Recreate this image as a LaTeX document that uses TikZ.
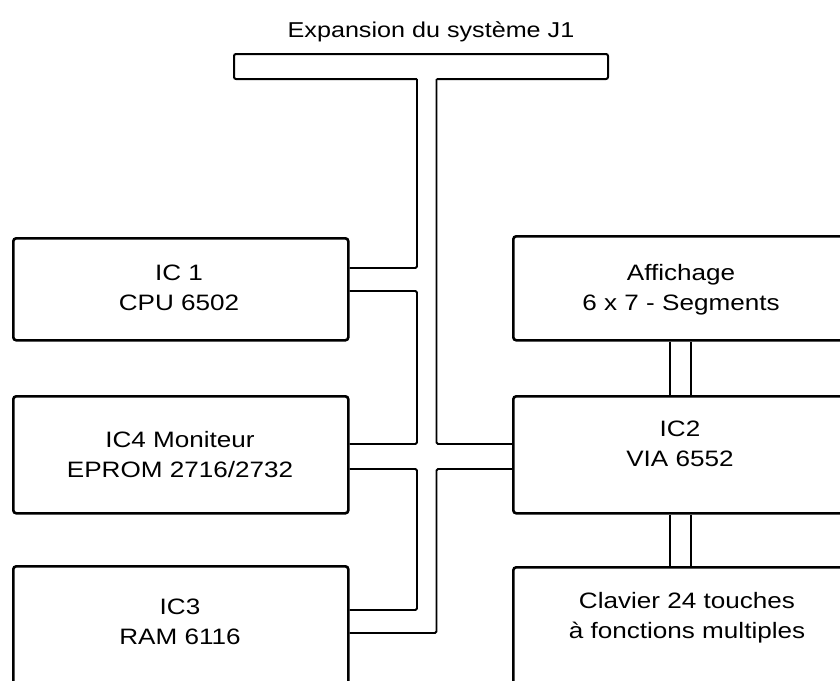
\documentclass[tikz,border=0pt]{standalone}
\usepackage{fontspec}
\setmainfont{Liberation Sans}[FakeStretch=1.17]
\begin{document}
\begin{tikzpicture}[x=1pt,y=-1pt,
  box/.style={draw, line width=2.6pt, rounded corners=3pt, inner sep=0pt, anchor=north west},
  bus/.style={line width=1.8pt, rounded corners=1.5pt},
  boxtext/.style={font=\fontsize{22.3}{30}\selectfont, align=center, inner sep=0pt}]
\useasboundingbox (0,0) rectangle (840,680);
\clip (0,0) rectangle (840,680);

% title and expansion connector bar
\node[font=\fontsize{21.5}{26}\selectfont, anchor=base, inner sep=0pt] (title) at (431,37) {Expansion du système J1};
\coordinate (busL) at (417,79);
\coordinate (busR) at (436.5,79);
\draw[line width=2pt, rounded corners=2pt] (busL) -- (234,79) -- (234,54) -- (608,54) -- (608,79) -- (busR);

% left column
\node[box, minimum width=335pt, minimum height=102pt] (ic1) at (12,237) {};
\node[box, minimum width=335pt, minimum height=117pt] (ic4) at (12,395) {};
\node[box, minimum width=335pt, minimum height=140pt] (ic3) at (12,565) {};
\node[boxtext] (ic1t) at (179,288) {IC 1\\CPU 6502};
\node[boxtext] (ic4t) at (180,455) {IC4 Moniteur\\EPROM 2716/2732};
\node[boxtext] (ic3t) at (180,622) {IC3\\RAM 6116};

% right column
\node[box, minimum width=350pt, minimum height=104pt] (aff) at (512,235) {};
\node[box, minimum width=350pt, minimum height=117pt] (ic2) at (512,395) {};
\node[box, minimum width=350pt, minimum height=140pt] (clav) at (512,566) {};
\node[boxtext] (afft) at (681,290) {Affichage\\6 x 7 - Segments};
\node[boxtext] (ic2t) at (680,444) {IC2\\VIA 6552};
\node[boxtext] (clavt) at (687,618) {Clavier 24 touches\\à fonctions multiples};

% bus levels
\coordinate (yA) at (0,268);
\coordinate (yB) at (0,291);
\coordinate (yC) at (0,444);
\coordinate (yD) at (0,469);
\coordinate (yE) at (0,610);
\coordinate (yF) at (0,633);
\coordinate (xa) at (670,0);
\coordinate (xb) at (691,0);

% system bus
\draw[bus] (busL) |- (ic1.east |- yA);
\draw[bus] (ic1.east |- yB) -| (busL |- yC) -- (ic4.east |- yC);
\draw[bus] (ic4.east |- yD) -| (busL |- yE) -- (ic3.east |- yE);
\draw[bus] (busR) |- (ic2.west |- yC);
\draw[bus] (ic2.west |- yD) -| (busR |- yF) -- (ic3.east |- yF);

% display and keyboard links
\draw[bus] (aff.south -| xa) -- (ic2.north -| xa);
\draw[bus] (aff.south -| xb) -- (ic2.north -| xb);
\draw[bus] (ic2.south -| xa) -- (clav.north -| xa);
\draw[bus] (ic2.south -| xb) -- (clav.north -| xb);
\end{tikzpicture}
\end{document}
